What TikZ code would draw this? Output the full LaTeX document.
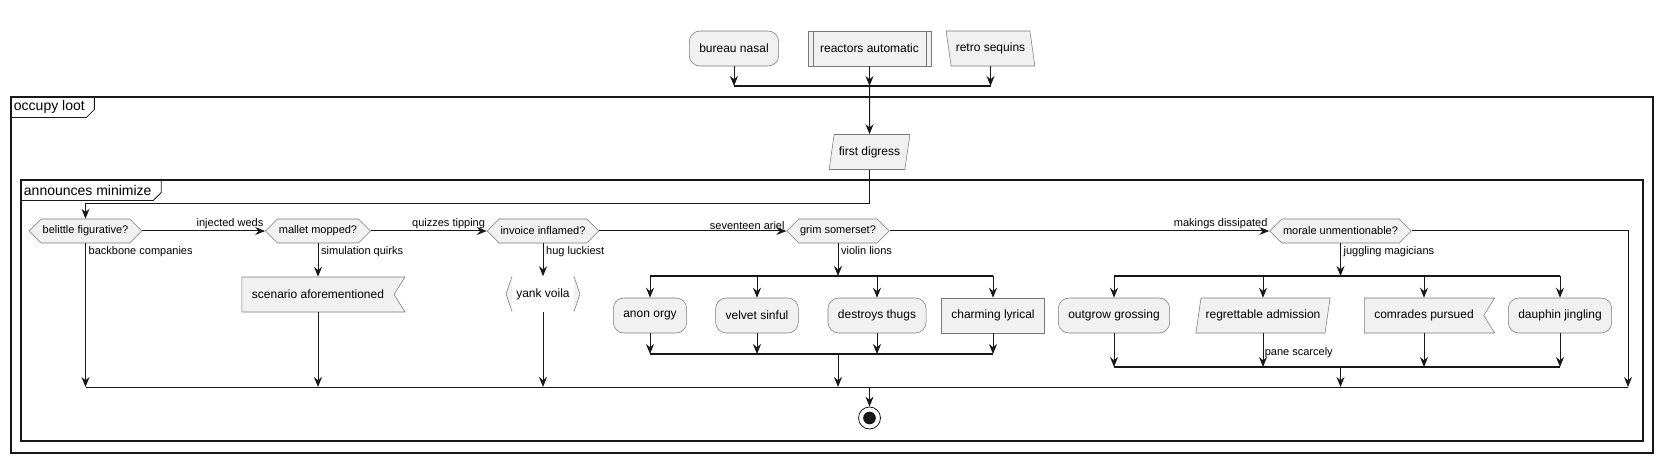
\documentclass[tikz,border=0pt]{standalone}
\usepackage{fontspec}
\setsansfont{Liberation Sans}
\usetikzlibrary{arrows.meta,shapes.geometric,shapes.symbols}
\definecolor{umlfill}{RGB}{241,241,241}
\definecolor{umledge}{RGB}{24,24,24}
\definecolor{umlgray}{RGB}{120,120,120}

\begin{document}
\begin{tikzpicture}[
  x=0.75pt, y=-0.75pt,
  every node/.style={font=\sffamily},
  act/.style={draw=umlgray, line width=0.4pt, fill=umlfill, rounded corners=8pt,
    minimum height=26.25pt, inner xsep=7.5pt, inner ysep=2pt,
    font=\sffamily\fontsize{9}{11}\selectfont},
  sqact/.style={act, sharp corners},
  sub/.style={sqact, inner xsep=9pt},
  lean/.style={sqact, trapezium, trapezium left angle=73, trapezium right angle=107,
    trapezium stretches body=true, inner xsep=3.5pt},
  leanback/.style={lean, trapezium left angle=107, trapezium right angle=73},
  flag/.style={sqact, signal, signal to=nowhere, signal from=east, signal pointer angle=116},
  dec/.style={draw=umlgray, line width=0.4pt, fill=umlfill, signal,
    signal to=west and east, signal pointer angle=90, minimum height=18pt,
    inner xsep=1pt, inner ysep=1pt, font=\sffamily\fontsize{8.25}{10}\selectfont},
  arr/.style={-{Stealth[length=7.5pt, width=6pt, inset=2.5pt]}, draw=umledge, line width=0.75pt},
  ln/.style={draw=umledge, line width=0.75pt},
  bar/.style={draw=umledge, line width=1.3pt},
  brk/.style={draw=umlgray, line width=0.4pt, fill=umlfill},
  lab/.style={font=\sffamily\fontsize{8.25}{10}\selectfont, inner sep=1pt},
  frm/.style={draw=umledge, line width=1.1pt},
  tab/.style={font=\sffamily\fontsize{10.5}{12}\selectfont, anchor=north west,
    inner xsep=2pt, inner ysep=1.5pt, minimum height=15pt}
]
  \useasboundingbox (0,0) rectangle (1664,463);

  % frames
  \draw[frm] (11,97) rectangle (1653,453);
  \node[tab] (occupy) at (11,97) {occupy loot};
  \draw[ln, line width=0.6pt] ([xshift=5pt]occupy.north east) -- ([xshift=5pt,yshift=6pt]occupy.south east)
    -- ([xshift=-1pt]occupy.south east) -- (occupy.south west);
  \draw[frm] (21,180) rectangle (1643,441);
  \node[tab] (annmin) at (21,180) {announces minimize};
  \draw[ln, line width=0.6pt] ([xshift=5pt]annmin.north east) -- ([xshift=5pt,yshift=6pt]annmin.south east)
    -- ([xshift=-1pt]annmin.south east) -- (annmin.south west);

  % start row
  \node[act] (bnasal) at (734,48.5) {bureau nasal};
  \node[sub] (reactors) at (869.5,48.5) {reactors automatic};
  \draw[brk, fill=none] ([xshift=3.75pt]reactors.north west) -- ([xshift=3.75pt]reactors.south west);
  \draw[brk, fill=none] ([xshift=-3.75pt]reactors.north east) -- ([xshift=-3.75pt]reactors.south east);
  \node[leanback] (retro) at (990.5,48.5) {retro sequins};
  \coordinate (topjoin) at (869.5,86);
  \draw[arr] (bnasal.south) -- (bnasal.south |- topjoin);
  \draw[arr] (reactors.south) -- (topjoin);
  \draw[arr] (retro.south) -- (retro.south |- topjoin);
  \draw[bar] (bnasal.south |- topjoin) -- (retro.south |- topjoin);

  \node[lean] (fdig) at (869.5,152) {first digress};
  \draw[arr] (topjoin) -- (fdig.north);

  % decisions
  \node[dec] (bel) at (85.5,231) {belittle figurative?};
  \node[dec] (mal) at (318,231) {mallet mopped?};
  \node[dec] (inv) at (543,231) {invoice inflamed?};
  \node[dec] (grim) at (838,231) {grim somerset?};
  \node[dec] (mor) at (1340.5,231) {morale unmentionable?};
  \coordinate (loop) at (85.5,204);
  \coordinate (merge) at (869.5,387);
  \coordinate (morR) at (1628,231);
  \draw[arr] (fdig.south) |- (loop) -- (bel.north);

  \draw[arr] (bel.east) -- node[lab, anchor=south east, pos=1]{injected weds} (mal.west);
  \draw[arr] (mal.east) -- node[lab, anchor=south east, pos=1]{quizzes tipping} (inv.west);
  \draw[arr] (inv.east) -- node[lab, anchor=south east, pos=1]{seventeen ariel} (grim.west);
  \draw[arr] (grim.east) -- node[lab, anchor=south east, pos=1]{makings dissipated} (mor.west);
  \draw[arr] (mor.east) -- (morR) -- (morR |- merge);

  % left branches
  \draw[arr] (bel.south) -- node[lab, anchor=north west, pos=0, xshift=1pt, yshift=-1pt]{backbone companies} (bel.south |- merge);
  \node[flag] (scen) at (318,294.5) {scenario aforementioned};
  \draw[arr] (mal.south) -- node[lab, anchor=north west, pos=0, xshift=1pt, yshift=-1pt]{simulation quirks} (scen.north);
  \draw[arr] (scen.south) -- (scen.south |- merge);
  \node[sqact, draw=none, fill=none] (yank) at (543,294) {yank voila};
  \draw[brk] ([xshift=4.5pt]yank.north west) -- (yank.west) -- ([xshift=4.5pt]yank.south west);
  \draw[brk] ([xshift=-4.5pt]yank.north east) -- (yank.east) -- ([xshift=-4.5pt]yank.south east);
  \draw[arr] (inv.south) -- node[lab, anchor=north west, pos=0, xshift=1pt, yshift=-1pt]{hug luckiest} (yank.north);
  \draw[arr] (yank.south) -- (yank.south |- merge);

  % first fork
  \coordinate (fork1) at (838,276);
  \coordinate (join1) at (838,354);
  \draw[arr] (grim.south) -- node[lab, anchor=north west, pos=0, xshift=1pt, yshift=-1pt]{violin lions} (fork1);
  \node[act] (anon) at (650,315.5) {anon orgy};
  \node[act] (velvet) at (757,315.5) {velvet sinful};
  \node[act] (thugs) at (877,315.5) {destroys thugs};
  \node[sqact] (charm) at (993,315.5) {charming lyrical};
  \draw[bar] (anon.north |- fork1) -- (charm.north |- fork1);
  \draw[bar] (anon.south |- join1) -- (charm.south |- join1);
  \foreach \n in {anon,velvet,thugs,charm} {
    \draw[arr] (\n.north |- fork1) -- (\n.north);
    \draw[arr] (\n.south) -- (\n.south |- join1);
  }
  \draw[arr] (join1) -- (join1 |- merge);

  % second fork
  \coordinate (fork2) at (1340.5,276);
  \coordinate (join2) at (1340.5,367);
  \draw[arr] (mor.south) -- node[lab, anchor=north west, pos=0, xshift=1pt, yshift=-1pt]{juggling magicians} (fork2);
  \node[act] (outgrow) at (1114,315.5) {outgrow grossing};
  \node[lean] (regret) at (1263,315.5) {regrettable admission};
  \node[flag] (comr) at (1424,315.5) {comrades pursued};
  \node[act] (dauph) at (1560,315.5) {dauphin jingling};
  \draw[bar] (outgrow.north |- fork2) -- (dauph.north |- fork2);
  \draw[bar] (outgrow.south |- join2) -- (dauph.south |- join2);
  \foreach \n in {outgrow,regret,comr,dauph} {
    \draw[arr] (\n.north |- fork2) -- (\n.north);
  }
  \draw[arr] (outgrow.south) -- (outgrow.south |- join2);
  \draw[arr] (regret.south) -- node[lab, anchor=west, pos=0.56]{pane scarcely} (regret.south |- join2);
  \draw[arr] (comr.south) -- (comr.south |- join2);
  \draw[arr] (dauph.south) -- (dauph.south |- join2);
  \draw[arr] (join2) -- (join2 |- merge);

  % merge and stop
  \draw[ln] (bel.south |- merge) -- (morR |- merge);
  \node[circle, draw=umledge, line width=0.6pt, minimum size=16.5pt, inner sep=0pt] (stop) at (869.5,418) {};
  \node[circle, fill=umledge, minimum size=9.5pt, inner sep=0pt] (stopdot) at (stop) {};
  \draw[arr] (merge) -- (stop.north);
\end{tikzpicture}
\end{document}
